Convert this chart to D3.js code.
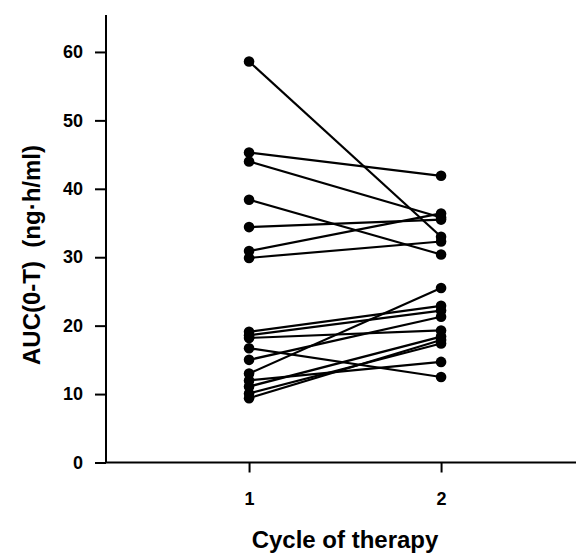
<!DOCTYPE html>
<html>
<head>
<meta charset="utf-8">
<script src="https://cdn.jsdelivr.net/npm/d3@7"></script>
<style>
  body { margin: 0; background: #fff; }
  svg { display: block; font-family: "Liberation Sans", Arial, sans-serif; }
</style>
</head>
<body>
<svg id="chart" width="576" height="555"></svg>
<script>
// paired AUC values per patient, cycle 1 -> cycle 2
const cycles = [1, 2];
const cycle1 = [58.6, 45.3, 44.0, 38.4, 34.4, 30.9, 29.9,
    19.1, 18.6, 18.2, 16.7, 15.0, 13.0, 12.0, 11.1, 10.1, 9.4];
const cycle2 = [33.0, 41.9, 35.8, 30.4, 35.5, 36.4, 32.3,
    22.9, 22.2, 19.3, 12.5, 21.3, 25.5, 14.7, 18.4, 17.4, 17.9];
const yTicks = [0, 10, 20, 30, 40, 50, 60];

const svg = d3.select('#chart');

const x = d3.scaleLinear().domain([0.255, 2.76]).range([106, 587]);
const y = d3.scaleLinear().domain([0, 65.4]).range([462.5, 15]);

function styleAxis(g) {
    g.attr('font-family', '"Liberation Sans", Arial, sans-serif')
        .attr('font-size', 18)
        .attr('font-weight', 'bold');
    g.selectAll('.tick line').attr('stroke', '#000').attr('stroke-width', 2);
    g.selectAll('.tick text').attr('fill', '#000');
}

// y axis
const yAxis = svg.append('g')
    .attr('transform', `translate(${x(0.255)},0)`)
    .call(d3.axisLeft(y).tickValues(yTicks).tickSize(11).tickPadding(12))
    .call(styleAxis);
yAxis.select('.domain').attr('stroke', '#000').attr('stroke-width', 2)
    .attr('d', `M0,${y(65.4)}V${y(0)}`);

// x axis
const xAxis = svg.append('g')
    .attr('transform', `translate(0,${y(0)})`)
    .call(d3.axisBottom(x).tickValues(cycles).tickFormat(d3.format('d')).tickSize(10).tickPadding(20))
    .call(styleAxis);
xAxis.select('.domain').attr('stroke', '#000').attr('stroke-width', 2)
    .attr('d', `M${x(0.255)},0H576`);

// paired lines
const pairs = cycle1.map((v, i) => [v, cycle2[i]]);
svg.append('g').selectAll('line')
    .data(pairs)
    .join('line')
    .attr('x1', x(1)).attr('y1', d => y(d[0]))
    .attr('x2', x(2)).attr('y2', d => y(d[1]))
    .attr('stroke', '#000')
    .attr('stroke-width', 2.2);

const dots = svg.append('g');
[cycle1, cycle2].forEach((vals, k) => {
    dots.selectAll(null)
        .data(vals)
        .join('circle')
        .attr('cx', x(cycles[k]))
        .attr('cy', d => y(d))
        .attr('r', 5.3)
        .attr('fill', '#000');
});

// titles
svg.append('text')
    .attr('x', 345).attr('y', 548)
    .attr('text-anchor', 'middle')
    .style('font-size', '24px').style('font-weight', 'bold')
    .text('Cycle of therapy');

svg.append('text')
    .attr('transform', 'translate(40,255) rotate(-90)')
    .attr('text-anchor', 'middle')
    .style('font-size', '24px').style('font-weight', 'bold')
    .style('white-space', 'pre')
    .text('AUC(0-T)  (ng\u00b7h/ml)');
</script>
</body>
</html>
